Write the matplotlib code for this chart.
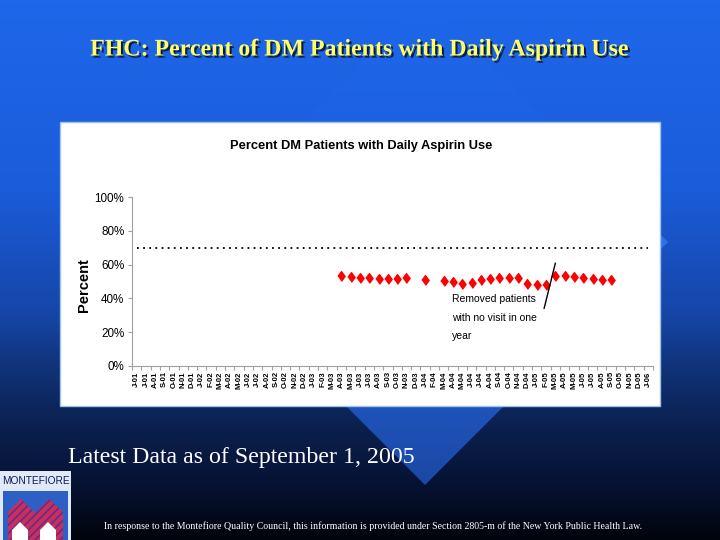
import numpy as np
import matplotlib
matplotlib.use("Agg")
import matplotlib.pyplot as plt
from matplotlib.patches import Polygon, Rectangle
import matplotlib.patheffects as pe
from matplotlib.colors import LinearSegmentedColormap

# ---------------- data ----------------
month_labels = ["J-01", "J-01", "A-01", "S-01", "O-01", "N-01", "D-01",
                "J-02", "F-02", "M-02", "A-02", "M-02", "J-02", "J-02", "A-02", "S-02", "O-02", "N-02", "D-02",
                "J-03", "F-03", "M-03", "A-03", "M-03", "J-03", "J-03", "A-03", "S-03", "O-03", "N-03", "D-03",
                "J-04", "F-04", "M-04", "A-04", "M-04", "J-04", "J-04", "A-04", "S-04", "O-04", "N-04", "D-04",
                "J-05", "F-05", "M-05", "A-05", "M-05", "J-05", "J-05", "A-05", "S-05", "O-05", "N-05", "D-05",
                "J-06"]
# positions (index into month_labels) of months with data
data_month_idx = [22, 23, 24, 25, 26, 27, 28, 29, 31,
                  33, 34, 35, 36, 37, 38, 39, 40, 41, 42, 43, 44,
                  45, 46, 47, 48, 49, 50, 51]
aspirin_pct = [53.5, 52.7, 51.9, 51.9, 51.2, 51.2, 51.6, 52.1, 51.0,
               50.4, 49.5, 48.3, 49.4, 50.9, 51.3, 51.9, 51.9, 51.9, 48.3, 47.9, 47.9,
               53.1, 53.1, 52.7, 51.9, 51.5, 51.1, 51.1]
target_pct = 70
y_ticks = [0, 20, 40, 60, 80, 100]
y_tick_labels = ["0%", "20%", "40%", "60%", "80%", "100%"]

slide_title = "FHC: Percent of DM Patients with Daily Aspirin Use"
chart_title = "Percent DM Patients with Daily Aspirin Use"
note_text = "Removed patients\nwith no visit in one\nyear"
latest_text = "Latest Data as of September 1, 2005"
footer_text = ("In response to the Montefiore Quality Council, this information is provided under "
               "Section 2805-m of the New York Public Health Law.")

SANS = ["Liberation Sans", "DejaVu Sans"]
SERIF = ["Liberation Serif", "DejaVu Serif"]

W, H = 720, 540
fig = plt.figure(figsize=(7.2, 5.4), dpi=100)

def fx(x):
    return x / W

def fy(y):
    return 1 - y / H

# ---------------- slide background ----------------
bg = fig.add_axes([0, 0, 1, 1])
bg.set_xlim(0, W)
bg.set_ylim(H, 0)
bg.axis("off")

bg_cmap = LinearSegmentedColormap.from_list("bg", [
    (0.0, "#1e67ea"), (0.35, "#1b5cda"), (0.58, "#1646a8"), (0.72, "#0e2c68"),
    (0.8, "#0b1f4c"), (0.9, "#061233"), (0.96, "#030a1c"), (1.0, "#01040c")])
grad = np.linspace(0, 1, 540)[:, None] * np.ones((1, 4))
bg.imshow(grad, cmap=bg_cmap, extent=(0, W, H, 0), aspect="auto", zorder=0)

dia_cmap = LinearSegmentedColormap.from_list("dia", [
    (0.0, "#1e67ea"), (0.33, "#1c5fdf"), (0.45, "#2d72ec"), (0.6, "#2660d0"),
    (0.75, "#2054bc"), (0.9, "#1a48a4"), (1.0, "#163e90")])
diamond = Polygon([(425, -1), (668, 242), (425, 485), (182, 242)], closed=True,
                  facecolor="none", edgecolor="none", transform=bg.transData)
bg.add_patch(diamond)
im = bg.imshow(grad, cmap=dia_cmap, extent=(0, W, H, 0), aspect="auto", zorder=1)
im.set_clip_path(diamond)

# chart panel
bg.add_patch(Rectangle((60, 122), 600, 284, facecolor="white", edgecolor="#9cc2ec",
                       linewidth=1.0, zorder=2))

# logo
bg.add_patch(Rectangle((0, 471), 71, 69, facecolor="#dfe9f7", edgecolor="none", zorder=3))
bg.text(35.5, 481, "MONTEFIORE", ha="center", va="center", fontsize=7.3,
        family=SANS, color="#101c50", zorder=4)
bg.add_patch(Rectangle((3, 491), 65, 49, facecolor="#2d5fc4", edgecolor="none", zorder=3))
plt.rcParams["hatch.linewidth"] = 1.2
for verts in ([(8, 540), (8, 512), (21, 499), (35, 513), (35, 540)],
              [(35, 540), (35, 513), (49, 499), (63, 512), (63, 540)]):
    bg.add_patch(Polygon(verts, closed=True, facecolor="#c8305c", edgecolor="#6a2a8a",
                         hatch="////", linewidth=0, zorder=4))
for verts in ([(12, 540), (12, 530), (20, 522), (28, 530), (28, 540)],
              [(40, 540), (40, 530), (48, 522), (56, 530), (56, 540)]):
    bg.add_patch(Polygon(verts, closed=True, facecolor="white", edgecolor="none", zorder=5))

# ---------------- slide texts ----------------
fig.text(fx(360), fy(50), slide_title, ha="center", va="center", fontsize=17.2,
         fontweight="bold", family=SERIF, color="#ffff66",
         path_effects=[pe.SimplePatchShadow(offset=(1.5, -1.5), shadow_rgbFace="black", alpha=0.7),
                       pe.Normal()])
fig.text(fx(68), fy(458), latest_text, ha="left", va="center", fontsize=17.2,
         family=SERIF, color="white")
fig.text(fx(373.5), fy(526), footer_text, ha="center", va="center", fontsize=7.15,
         family=SERIF, color="white")

# ---------------- chart ----------------
fig.text(fx(361.5), fy(146), chart_title, ha="center", va="center", fontsize=9.3,
         fontweight="bold", family=SANS, color="black")
fig.text(fx(84), fy(285), "Percent", rotation=90, ha="center", va="center",
         fontsize=10.5, fontweight="bold", family=SANS, color="black")

ax = fig.add_axes([fx(132), fy(365.7), (653 - 132) / W, 168.4 / H])
ax.set_facecolor("none")
n = len(month_labels)
ax.set_xlim(-0.5, n - 0.5)
ax.set_ylim(0, 100)

ax.plot([0, n - 1], [target_pct, target_pct], color="black", linewidth=1.3,
        linestyle=(0, (1, 2.4)), zorder=2)

diamond_marker = [(-0.37, 0), (0, 0.5), (0.37, 0), (0, -0.5)]
ax.plot(data_month_idx, aspirin_pct, linestyle="none", marker=diamond_marker,
        markersize=7, color="#ff0000", zorder=3)

# annotation
ax.plot([43.8, 45.0], [34.1, 60.8], color="black", linewidth=1.0, zorder=4)
ax.text(33.9, 42.3, note_text, ha="left", va="top", fontsize=7.5, family=SANS,
        linespacing=2.05, color="black")

ax.set_xticks(range(n))
ax.set_xticklabels(month_labels, rotation=90, fontsize=5.5, fontweight="bold",
                   family=SANS)
ax.set_xticks(np.arange(-0.5, n, 1.0), minor=True)
ax.tick_params(axis="x", which="major", length=0, pad=4)
ax.tick_params(axis="x", which="minor", length=3, color="#a0a0a0", width=0.8)
ax.set_yticks(y_ticks)
ax.set_yticklabels(y_tick_labels, fontsize=8.4, family=SANS)
ax.tick_params(axis="y", length=3, color="#a0a0a0", width=0.8, pad=2.5)
for s in ("top", "right"):
    ax.spines[s].set_visible(False)
for s in ("left", "bottom"):
    ax.spines[s].set_color("#a0a0a0")
    ax.spines[s].set_linewidth(0.8)

fig.savefig("out.png", dpi=100)
